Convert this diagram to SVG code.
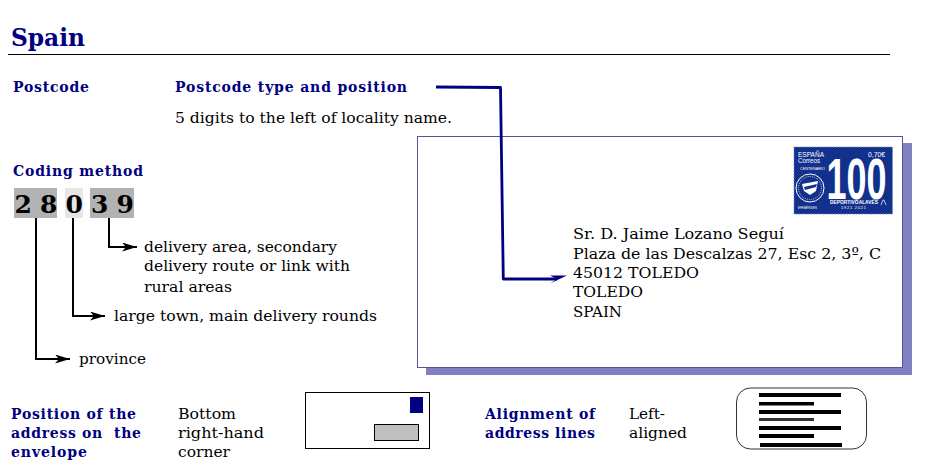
<svg xmlns="http://www.w3.org/2000/svg" width="939" height="471" viewBox="0 0 939 471">
<style>
text{font-family:"DejaVu Serif","Liberation Serif",serif;fill:#000;font-size:15px}
.h{fill:#000080;font-weight:bold;font-size:14px}
.d{font-size:25px;font-weight:bold}
.k{fill:none;stroke:#000;stroke-width:2}
text.s{fill:#fff;font-family:"Liberation Sans",sans-serif}
.b{fill:#000}
</style>
<defs>
<marker id="ah" viewBox="0 0 15 9" refX="15" refY="4.500" markerWidth="15" markerHeight="9" markerUnits="userSpaceOnUse" orient="auto"><path d="M0 0L15 4.500L0 9L4 4.500Z" fill="#000"/></marker>
<marker id="an" viewBox="0 0 17 9" refX="7" refY="4" markerWidth="17" markerHeight="9" markerUnits="userSpaceOnUse" orient="auto"><path d="M0 .6L17 0.500L0 8.500L7 4Z" fill="#000080"/></marker>
</defs>
<rect width="939" height="471" fill="#fff"/>
<g id="title">
<text x="11" y="46" style="fill:#000080;font-weight:bold;font-size:24px" textLength="74" lengthAdjust="spacingAndGlyphs">Spain</text>
<line x1="8" y1="54.500" x2="890" y2="54.500" stroke="#000" stroke-width="1"/>
</g>
<g id="postcode">
<text class="h" x="13" y="92" textLength="76">Postcode</text>
<text class="h" x="175" y="92" textLength="232">Postcode type and position</text>
<text x="175" y="123" textLength="277" lengthAdjust="spacingAndGlyphs">5 digits to the left of locality name.</text>
</g>
<g id="coding">
<text class="h" x="13" y="176" textLength="130">Coding method</text>
<rect x="14" y="188" width="43" height="30" fill="#b2b2b2"/>
<rect x="65" y="188" width="18" height="30" fill="#e6e6e6"/>
<rect x="90" y="188" width="44" height="30" fill="#b2b2b2"/>
<text class="d" x="14.500" y="213">2</text>
<text class="d" x="40" y="213">8</text>
<text class="d" x="65.500" y="213">0</text>
<text class="d" x="91" y="213">3</text>
<text class="d" x="116.500" y="213">9</text>
</g>
<g id="label-area">
<text x="144" y="252" textLength="193" lengthAdjust="spacingAndGlyphs">delivery area, secondary</text>
<text x="144" y="271" textLength="206" lengthAdjust="spacingAndGlyphs">delivery route or link with</text>
<text x="144" y="292" textLength="88" lengthAdjust="spacingAndGlyphs">rural areas</text>
</g>
<g id="label-town"><text x="114" y="321" textLength="263" lengthAdjust="spacingAndGlyphs">large town, main delivery rounds</text></g>
<g id="label-province"><text x="79" y="364" textLength="67" lengthAdjust="spacingAndGlyphs">province</text></g>
<g id="envelope">
<rect x="426" y="143" width="486" height="232" fill="#8080c0"/>
<rect x="417.500" y="136.500" width="485" height="231" fill="#fff" stroke="#54549a" stroke-width="1"/>
<text x="573" y="239" textLength="211" lengthAdjust="spacingAndGlyphs">Sr. D. Jaime Lozano Seguí</text>
<text x="573" y="259" textLength="308" lengthAdjust="spacingAndGlyphs">Plaza de las Descalzas 27, Esc 2, 3º, C</text>
<text x="573" y="278" textLength="126" lengthAdjust="spacingAndGlyphs">45012 TOLEDO</text>
<text x="573" y="297" textLength="70" lengthAdjust="spacingAndGlyphs">TOLEDO</text>
<text x="573" y="317" textLength="49" lengthAdjust="spacingAndGlyphs">SPAIN</text>
</g>
<g id="stamp">
<rect x="794" y="147" width="98.500" height="67" fill="#12318c" stroke="#6f86c0" stroke-width="1" stroke-dasharray="1.500 1.500"/>
<text class="s" x="798" y="156.700" style="font-size:8px" textLength="26" lengthAdjust="spacingAndGlyphs">ESPAÑA</text>
<text class="s" x="798" y="162.800" style="font-size:7px" textLength="22" lengthAdjust="spacingAndGlyphs">Correos</text>
<text class="s" x="868" y="157" style="font-size:7.500px" textLength="17" lengthAdjust="spacingAndGlyphs">0,70€</text>
<text class="s" x="800" y="170" style="font-size:4.200px" textLength="25" lengthAdjust="spacingAndGlyphs">CENTENARIO</text>
<circle cx="810" cy="188" r="14" fill="none" stroke="#fff" stroke-width="1"/>
<circle cx="810" cy="188" r="11.500" fill="none" stroke="#fff" stroke-width="1" stroke-dasharray="1 1" opacity=".7"/>
<path d="M802 184L818 181L816 191L810 195L804 191Z" fill="#fff"/>
<path d="M804 187L817 184L816 187L805 190Z" fill="#12318c"/>
<text class="s" x="826.500" y="199" style="font-size:57px;font-weight:bold" textLength="60" lengthAdjust="spacingAndGlyphs">100</text>
<text class="s" x="830" y="204" style="font-size:4.500px;font-weight:bold" textLength="48" lengthAdjust="spacingAndGlyphs">DEPORTIVOALAVÉS</text>
<text class="s" x="841" y="208.800" style="font-size:4px" textLength="25">1921 2021</text>
<text class="s" x="798" y="208.800" style="font-size:3.500px" textLength="19" lengthAdjust="spacingAndGlyphs">EFEMÉRIDES</text>
<path d="M881 205L883 200H884L886 205" fill="none" stroke="#fff" stroke-width=".7"/>
</g>
<g id="connectors">
<path class="k" d="M36 218V359H70" marker-end="url(#ah)"/>
<path class="k" d="M73 218V316H105" marker-end="url(#ah)"/>
<path class="k" d="M109 218V247H137" marker-end="url(#ah)"/>
<path d="M436 87L500.500 87.500L503.300 279H557" fill="none" stroke="#000080" stroke-width="2.800" stroke-linejoin="round" marker-end="url(#an)"/>
</g>
<g id="position">
<text class="h" x="11" y="419" textLength="125">Position of the</text>
<text class="h" x="11" y="438" textLength="130" xml:space="preserve">address on  the</text>
<text class="h" x="11" y="457" textLength="76">envelope</text>
<text x="178" y="419" textLength="58" lengthAdjust="spacingAndGlyphs">Bottom</text>
<text x="178" y="438" textLength="86" lengthAdjust="spacingAndGlyphs">right-hand</text>
<text x="178" y="457" textLength="52" lengthAdjust="spacingAndGlyphs">corner</text>
</g>
<g id="position-icon">
<rect x="305.500" y="392.500" width="124" height="56" fill="#fff" stroke="#000" stroke-width="1"/>
<rect x="410" y="397" width="13" height="16" fill="#000080"/>
<rect x="374.500" y="424.500" width="44" height="16" fill="#c0c0c0" stroke="#000" stroke-width="1"/>
</g>
<g id="alignment">
<text class="h" x="485" y="419" textLength="110">Alignment of</text>
<text class="h" x="485" y="438" textLength="110">address lines</text>
<text x="629" y="419" textLength="36" lengthAdjust="spacingAndGlyphs">Left-</text>
<text x="629" y="438" textLength="58" lengthAdjust="spacingAndGlyphs">aligned</text>
</g>
<g id="alignment-icon">
<rect x="736.500" y="388" width="130" height="61" rx="14" fill="#fff" stroke="#333" stroke-width="1"/>
<rect class="b" x="759" y="393" width="82" height="4"/>
<rect class="b" x="759" y="402" width="55" height="3.500"/>
<rect class="b" x="759" y="410" width="82" height="4"/>
<rect class="b" x="759" y="418" width="55" height="3" fill-opacity=".8"/>
<rect class="b" x="759" y="426" width="82" height="4"/>
<rect class="b" x="759" y="434" width="55" height="4"/>
<rect class="b" x="760" y="443" width="82" height="4"/>
</g>
</svg>
